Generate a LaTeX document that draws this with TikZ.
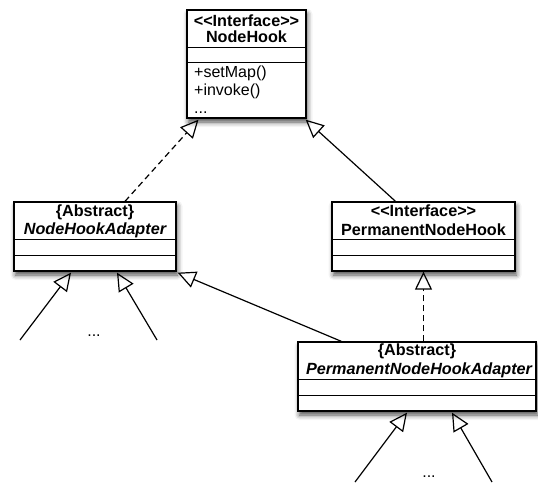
\documentclass[tikz,border=0pt]{standalone}
\usepackage{fontspec}
\setmainfont{Liberation Sans}
\usepackage{tikz}
\usetikzlibrary{calc,arrows.meta,shadows.blur}
\definecolor{ink}{HTML}{000000}
\definecolor{paper}{HTML}{FFFFFF}
\tikzset{
  box/.style={draw=ink, fill=paper, line width=1.3pt, inner sep=0pt,
    blur shadow={shadow xshift=1.5pt, shadow yshift=-4pt, shadow blur radius=5pt, shadow opacity=70}},
  rule/.style={draw=ink, line width=1.2pt},
  inherit/.style={draw=ink, line width=1.2pt, -{Triangle[open,length=18pt,width=17pt]}},
  realize/.style={inherit, dash pattern=on 6pt off 4pt},
  head/.style={text=ink, font=\fontsize{16.2}{18}\selectfont\bfseries, inner sep=0pt, anchor=base},
  abst/.style={head, font=\fontsize{16.2}{18}\selectfont\bfseries\itshape},
  memb/.style={text=ink, font=\fontsize{16}{18}\selectfont, inner sep=0pt, anchor=base west},
  more/.style={text=ink, font=\fontsize{16}{18}\selectfont, inner sep=0pt, anchor=base}
}

\begin{document}
\begin{tikzpicture}[x=1pt,y=-1pt]
  \useasboundingbox (0,0) rectangle (538,482);

  % classes
  \node[box, minimum width=119pt, minimum height=108pt] (hook) at (246.5,64) {};
  \node[box, minimum width=162pt, minimum height=69pt] (adapter) at (95,236.5) {};
  \node[box, minimum width=183pt, minimum height=69pt] (perm) at (423.5,236.5) {};
  \node[box, minimum width=238pt, minimum height=69pt] (permadapter) at (417,376.5) {};

  % compartments
  \draw[rule] ([yshift=-38pt]hook.north west) -- ([yshift=-38pt]hook.north east);
  \draw[rule] ([yshift=-53pt]hook.north west) -- ([yshift=-53pt]hook.north east);
  \foreach \c in {adapter,perm,permadapter}{
    \draw[rule] ([yshift=-38pt]\c.north west) -- ([yshift=-38pt]\c.north east);
    \draw[rule] ([yshift=-54pt]\c.north west) -- ([yshift=-54pt]\c.north east);
  }

  % headers
  \node[head] (hookst) at (246.5,26) {<{}<Interface>{}>};
  \node[head] (hookname) at (246.5,42) {NodeHook};
  \node[head] (adapterst) at (95,216.5) {\{Abstract\}};
  \node[abst] (adaptername) at (95,234.5) {NodeHookAdapter};
  \node[head] (permst) at (423.5,216) {<{}<Interface>{}>};
  \node[head] (permname) at (423.5,235) {PermanentNodeHook};
  \node[head] (permadapterst) at (417,355) {\{Abstract\}};
  \node[abst] (permadaptername) at (419,374) {PermanentNodeHookAdapter};

  % operations
  \node[memb] (setmap) at (194,77) {+setMap()};
  \node[memb] (invoke) at (194,95) {+invoke()};
  \node[memb] (hookmore) at (194,113) {...};

  % realization and generalization
  \draw[realize] ($(adapter.north)+(30,0)$) -- ($(hook.south)+(-48,1)$);
  \draw[inherit] ($(perm.north)+(-28,0)$) -- ($(hook.south east)+(-1,1)$);
  \draw[realize] (permadapter.north -| perm.south) -- (perm.south);
  \draw[inherit] ($(permadapter.north west)+(44,0)$) -- ($(adapter.south east)+(1,1)$);

  % further subclasses
  \coordinate (sub1) at (20,340);
  \coordinate (sub2) at (157,340);
  \coordinate (sub3) at (355,482);
  \coordinate (sub4) at (492,482);
  \draw[inherit] (sub1) -- ($(adapter.south)+(-24,1)$);
  \draw[inherit] (sub2) -- ($(adapter.south)+(22,1)$);
  \draw[inherit] (sub3) -- ($(permadapter.south)+(-10,1)$);
  \draw[inherit] (sub4) -- ($(permadapter.south)+(35,1)$);
  \node[more] (adaptermore) at (94,336) {...};
  \node[more] (permadaptermore) at (429,477) {...};
\end{tikzpicture}
\end{document}
